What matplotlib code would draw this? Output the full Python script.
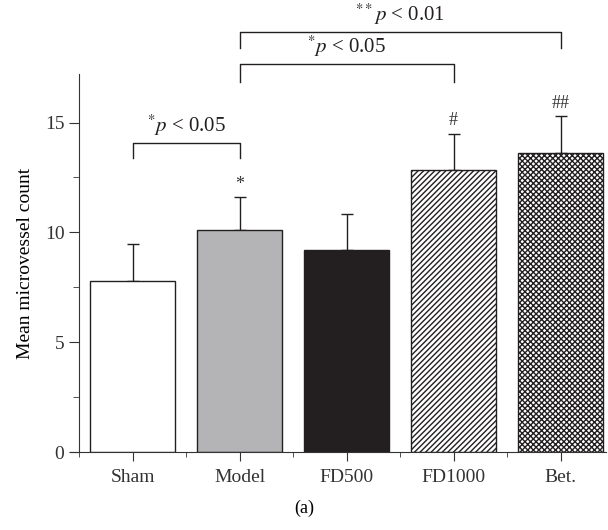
import numpy as np
import matplotlib
matplotlib.use('Agg')
import matplotlib.pyplot as plt
from matplotlib.ticker import MultipleLocator

plt.rcParams['font.family'] = ['Liberation Serif', 'DejaVu Serif']
plt.rcParams['mathtext.fontset'] = 'stix'
plt.rcParams['hatch.linewidth'] = 1.0

groups = ['Sham', 'Model', 'FD500', 'FD1000', 'Bet.']
means = [7.8, 10.1, 9.2, 12.85, 13.6]
errs = [1.65, 1.5, 1.65, 1.65, 1.7]
marks = ['', '*', '', '#', '##']
colors = ['white', '#b4b4b6', '#231f20', 'white', 'white']
hatches = [None, None, None, '//////', 'xxxxxx']

# brackets: (left group, right group, bar height, leg bottom, label)
brackets = [
    (0, 1, 14.05, 13.4, r'$^{*}\mathit{p}$ < 0.05'),
    (1, 3, 17.65, 16.85, r'$^{*}\mathit{p}$ < 0.05'),
    (1, 4, 19.1, 18.4, r'$^{**}\mathit{p}$ < 0.01'),
]

fig = plt.figure(figsize=(6.08, 5.3), dpi=100)
ax = fig.add_axes([0.115, 0.147, 0.881, 0.713])

x = np.arange(len(groups))
ax.bar(x, means, width=0.8, color=colors, edgecolor='#231f20', linewidth=1.0,
       hatch=hatches, zorder=2)
ax.errorbar(x, means, yerr=[np.zeros(len(x)), errs], fmt='none',
            ecolor='#231f20', elinewidth=1.0, capsize=4, capthick=1.0, zorder=1)

for xi, m, e, s in zip(x, means, errs, marks):
    if s:
        ax.text(xi, m + e + 0.2, s, ha='center', va='bottom', fontsize=13,
                color='#333333')

for a, b, h, low, lbl in brackets:
    ax.plot([a, a, b, b], [low, h, h, low], color='#231f20', lw=1.0,
            clip_on=False)
    ax.text((a + b) / 2, h + 0.25, lbl, ha='center', va='bottom',
            fontsize=15, color='#231f20')

ax.set_xlim(-0.585, 4.42)
ax.set_ylim(0, 17.2)
ax.spines['left'].set_position(('data', -0.5))
ax.set_xticks(x)
ax.set_xticklabels(groups, fontsize=14)
ax.set_xticks([-0.5, 0.5, 1.5, 2.5, 3.5], minor=True)
ax.yaxis.set_major_locator(MultipleLocator(5))
ax.yaxis.set_minor_locator(MultipleLocator(2.5))
ax.tick_params(axis='y', which='major', length=7, labelsize=14)
ax.tick_params(axis='y', which='minor', length=4.5)
ax.tick_params(axis='x', which='major', length=6.5, pad=6)
ax.tick_params(axis='x', which='minor', length=3.5)
ax.tick_params(colors='#333333', which='both')
ax.set_ylabel('Mean microvessel count', fontsize=14, labelpad=8)

for side in ['top', 'right']:
    ax.spines[side].set_visible(False)
for side in ['left', 'bottom']:
    ax.spines[side].set_color('#333333')

fig.text(0.5, 0.04, '(a)', ha='center', va='center', fontsize=13)

fig.savefig('out.png', dpi=100)
